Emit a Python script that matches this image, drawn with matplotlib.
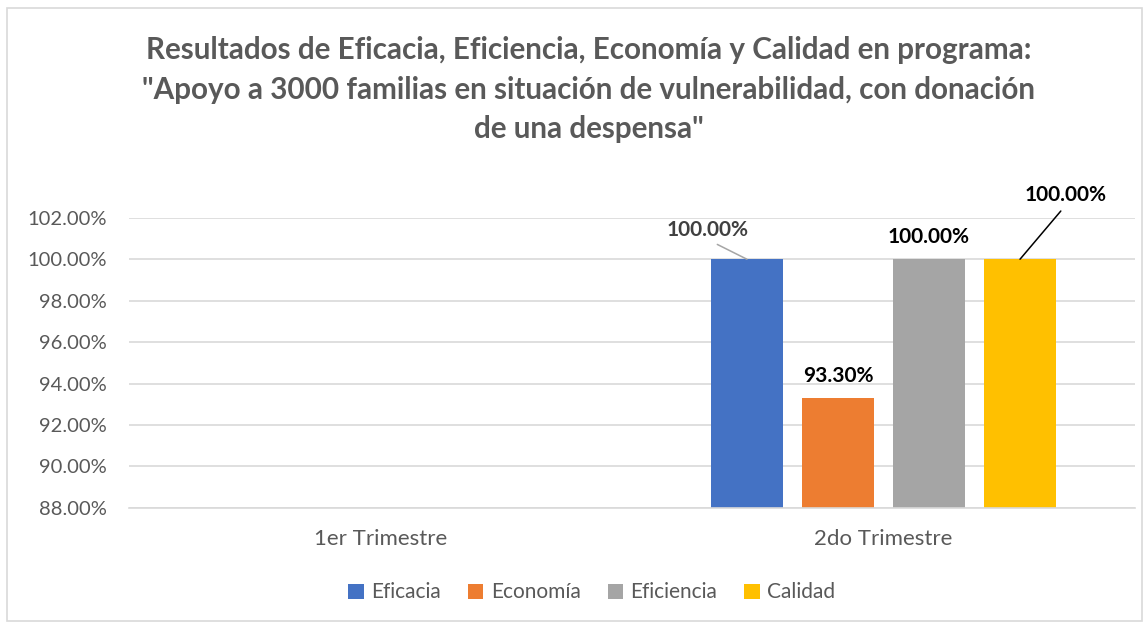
import matplotlib.pyplot as plt
from matplotlib.patches import Rectangle
import numpy as np

plt.rcParams['font.family'] = ['Lato', 'DejaVu Sans']

# datos
trimestres = ['1er Trimestre', '2do Trimestre']
series = ['Eficacia', 'Economía', 'Eficiencia', 'Calidad']
valores = {
    'Eficacia': [np.nan, 1.00],
    'Economía': [np.nan, 0.933],
    'Eficiencia': [np.nan, 1.00],
    'Calidad': [np.nan, 1.00],
}
colores = ['#4472C4', '#ED7D31', '#A5A5A5', '#FFC000']
titulo = ('Resultados de Eficacia, Eficiencia, Economía y Calidad en programa:\n'
          '"Apoyo a 3000 familias en situación de vulnerabilidad, con donación\n'
          'de una despensa"')

fig = plt.figure(figsize=(11.47, 6.24), dpi=100)
ax = fig.add_axes([0.1125, 0.186, 0.877, 0.465])

x = np.arange(len(trimestres))
ancho = 0.143
paso = 0.181
offsets = (np.arange(len(series)) - 1.5) * paso

for i, s in enumerate(series):
    ax.bar(x + offsets[i], valores[s], ancho, color=colores[i], label=s, zorder=2)

ticks = np.arange(0.88, 1.021, 0.02)
ax.set_ylim(0.88, 1.02)
ax.set_xlim(-0.5, 1.5)
ax.set_yticks(ticks)
ax.set_yticklabels(['%.2f%%' % (v * 100) for v in ticks])
ax.set_xticks(x)
ax.set_xticklabels(trimestres)
ax.grid(axis='y', color='#D9D9D9', linewidth=1.2, zorder=0)
for sp in ['top', 'right', 'left']:
    ax.spines[sp].set_visible(False)
ax.spines['bottom'].set_color('#D9D9D9')
ax.spines['bottom'].set_linewidth(1.2)
ax.tick_params(axis='both', length=0, colors='#595959')
ax.tick_params(axis='y', labelsize=14.5, pad=16)
ax.tick_params(axis='x', labelsize=16, pad=15)

linea_color = {'Eficacia': '#A5A5A5', 'Calidad': '#000000'}

# etiquetas de datos
def etiqueta(serie, txt_dx, txt_dy, color, con_linea=False):
    i = series.index(serie)
    v = valores[serie][1]
    xb = x[1] + offsets[i]
    texto = '%.2f%%' % (v * 100)
    props = None
    if con_linea:
        props = dict(arrowstyle='-', color=linea_color[serie], lw=1.1,
                     shrinkA=3, shrinkB=0, relpos=(0.5, 0.0))
    ax.annotate(texto, (xb, v), xytext=(txt_dx, txt_dy), textcoords='offset points',
                ha='center', va='bottom', fontsize=15, fontweight='bold', color=color,
                arrowprops=props)

etiqueta('Eficacia', -28, 14, '#404040', con_linea=True)
etiqueta('Economía', 0, 9, '#000000')
etiqueta('Eficiencia', 0, 9, '#000000')
etiqueta('Calidad', 33, 39, '#000000', con_linea=True)

fig.suptitle(titulo, x=0.513, y=0.942, fontsize=21.3, fontweight='bold', color='#595959',
             linespacing=1.5)

ax.legend(loc='upper center', bbox_to_anchor=(0.46, -0.192), ncol=4, frameon=False,
          fontsize=15, labelcolor='#595959', handlelength=0.75, handleheight=0.75,
          handletextpad=0.35, columnspacing=1.3)

fig.patches.append(Rectangle((0.006, 0.005), 0.99, 0.982, transform=fig.transFigure,
                             fill=False, edgecolor='#D9D9D9', linewidth=1.2))

fig.savefig('out.png', dpi=100)
